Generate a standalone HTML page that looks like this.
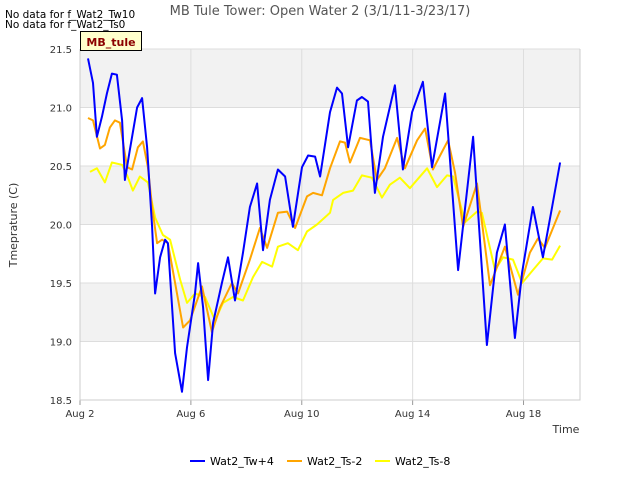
<!DOCTYPE html>
<html><head><meta charset="utf-8"><style>
body{margin:0;background:#fff;font-family:"Liberation Sans","DejaVu Sans",sans-serif}
</style></head><body>
<svg id="chart" width="640" height="480" xmlns="http://www.w3.org/2000/svg" font-family="DejaVu Sans, Liberation Sans, sans-serif">
<text x="320" y="15" text-anchor="middle" font-size="13" fill="#555">MB Tule Tower: Open Water 2 (3/1/11-3/23/17)</text>
<text x="5" y="18" font-size="10.5" fill="#000">No data for f_Wat2_Tw10</text>
<text x="5" y="28" font-size="10.5" fill="#000">No data for f_Wat2_Ts0</text>
<g id="plot"></g>
<g>
<rect x="80.5" y="31.5" width="61" height="19" fill="#ffffcc" stroke="#000"/>
<text x="111" y="46" text-anchor="middle" font-size="11" font-weight="bold" fill="#8b0000">MB_tule</text>
</g>
<text x="17" y="225" transform="rotate(-90 17 225)" text-anchor="middle" font-size="11" fill="#333">Tmeprature (C)</text>
<text x="566" y="433" text-anchor="middle" font-size="11" fill="#333">Time</text>
<g font-size="11" fill="#000">
<g><line x1="190" y1="461" x2="205" y2="461" stroke="#0000ff" stroke-width="2"/><text x="210" y="465">Wat2_Tw+4</text></g>
<g><line x1="287" y1="461" x2="302" y2="461" stroke="#ffa500" stroke-width="2"/><text x="307" y="465">Wat2_Ts-2</text></g>
<g><line x1="375" y1="461" x2="390" y2="461" stroke="#ffff00" stroke-width="2"/><text x="395" y="465">Wat2_Ts-8</text></g>
</g>
</svg>
<script>
const yTicks=[18.5,19.0,19.5,20.0,20.5,21.0,21.5];
const xTickDays=[0,4,8,12,16];
const xTickLabels=["Aug 2","Aug 6","Aug 10","Aug 14","Aug 18"];
const twDays=[0.29,0.47,0.61,0.79,0.97,1.15,1.33,1.52,1.62,1.80,2.06,2.24,2.42,2.60,2.71,2.89,3.07,3.17,3.43,3.68,3.86,4.15,4.26,4.44,4.62,4.80,5.12,5.34,5.59,5.88,6.13,6.39,6.60,6.85,7.14,7.40,7.68,8.01,8.23,8.48,8.66,9.02,9.27,9.45,9.67,9.99,10.17,10.39,10.64,10.93,11.36,11.65,11.98,12.37,12.70,13.17,13.64,14.18,14.68,15.04,15.33,15.69,15.95,16.34,16.70,17.03,17.32];
const twVals=[21.42,21.21,20.75,20.92,21.12,21.29,21.28,20.89,20.38,20.64,21.00,21.08,20.66,19.98,19.41,19.72,19.87,19.84,18.90,18.57,18.95,19.41,19.67,19.29,18.67,19.16,19.50,19.72,19.35,19.76,20.15,20.35,19.78,20.21,20.47,20.41,19.98,20.49,20.59,20.58,20.41,20.96,21.17,21.12,20.66,21.06,21.09,21.05,20.27,20.75,21.19,20.47,20.96,21.22,20.49,21.12,19.61,20.75,18.97,19.76,20.00,19.03,19.59,20.15,19.72,20.15,20.53];
const ts2Days=[0.29,0.47,0.72,0.90,1.08,1.26,1.44,1.70,1.88,2.09,2.27,2.45,2.60,2.78,2.96,3.17,3.43,3.72,3.97,4.40,4.76,5.05,5.48,5.70,6.13,6.49,6.75,7.14,7.47,7.76,8.19,8.41,8.73,9.02,9.38,9.56,9.74,10.10,10.46,10.71,11.00,11.44,11.72,12.16,12.45,12.73,12.99,13.28,13.53,13.82,14.32,14.79,15.33,15.80,16.23,16.52,16.77,17.32];
const ts2Vals=[20.91,20.89,20.65,20.68,20.83,20.89,20.87,20.49,20.47,20.66,20.71,20.49,20.15,19.84,19.87,19.84,19.50,19.12,19.18,19.47,19.08,19.29,19.50,19.41,19.70,19.97,19.80,20.10,20.11,19.97,20.24,20.27,20.25,20.48,20.71,20.70,20.53,20.74,20.72,20.38,20.48,20.74,20.48,20.72,20.82,20.47,20.59,20.72,20.44,19.98,20.35,19.48,19.81,19.40,19.76,19.88,19.80,20.12];
const ts8Days=[0.36,0.61,0.90,1.15,1.52,1.70,1.91,2.16,2.45,2.71,2.99,3.25,3.61,3.86,4.15,4.51,4.87,5.16,5.52,5.88,6.24,6.57,6.93,7.14,7.50,7.86,8.19,8.55,9.02,9.13,9.49,9.85,10.17,10.53,10.89,11.18,11.54,11.90,12.52,12.88,13.24,13.46,13.89,14.32,14.50,14.97,15.26,15.62,15.95,16.34,16.70,17.03,17.32];
const ts8Vals=[20.45,20.48,20.36,20.53,20.51,20.42,20.29,20.41,20.36,20.06,19.91,19.87,19.53,19.33,19.41,19.38,19.18,19.33,19.38,19.35,19.55,19.68,19.64,19.81,19.84,19.78,19.94,20.00,20.10,20.21,20.27,20.29,20.42,20.40,20.23,20.34,20.40,20.31,20.48,20.32,20.42,20.41,20.02,20.11,20.10,19.61,19.72,19.70,19.50,19.61,19.71,19.70,19.82];

const L=80,R=580,T=49,B=400,yMin=18.5,yMax=21.5,dayPx=27.72;
const xs=d=>L+d*dayPx;
const ys=v=>B-(v-yMin)/(yMax-yMin)*(B-T);
const NS="http://www.w3.org/2000/svg";
const plot=document.getElementById('plot');
function mk(tag,attrs){const e=document.createElementNS(NS,tag);for(const k in attrs)e.setAttribute(k,attrs[k]);plot.appendChild(e);return e;}
for(let i=0;i<yTicks.length-1;i++){
  if(i%2===1){const b=mk('rect',{x:L,y:ys(yTicks[i+1]),width:R-L,height:ys(yTicks[i])-ys(yTicks[i+1]),fill:'#f2f2f2'});
  
  }
}
yTicks.forEach(v=>{
  const g=mk('line',{x1:L,x2:R,y1:ys(v),y2:ys(v),stroke:'#dddddd'});
  
  
  const t=mk('text',{x:L-8,y:ys(v)+4,'text-anchor':'end','font-size':10,fill:'#333'});
  t.textContent=v.toFixed(1);
  
  
});
xTickDays.forEach((d,i)=>{
  const g=mk('line',{x1:xs(d),x2:xs(d),y1:T,y2:B,stroke:'#dddddd'});
  
  
  const tk=mk('line',{x1:xs(d),x2:xs(d),y1:B,y2:B+5,stroke:'#999'});
  
  
  const t=mk('text',{x:xs(d),y:B+17,'text-anchor':'middle','font-size':10,fill:'#333'});
  t.textContent=xTickLabels[i];
  
  
});
const ax=mk('path',{d:`M${L},${T}V${B}H${R}V${T}`,fill:'none',stroke:'#cccccc'});


function series(days,vals,color,name){
  const d=days.map((x,i)=>(i?'L':'M')+xs(x).toFixed(1)+','+ys(vals[i]).toFixed(1)).join('');
  const p=mk('path',{d:d,fill:'none',stroke:color,'stroke-width':2,'stroke-linejoin':'round'});
  
  
}
series(ts8Days,ts8Vals,'#ffff00','series-ts8-line');
series(ts2Days,ts2Vals,'#ffa500','series-ts2-line');
series(twDays,twVals,'#0000ff','series-tw4-line');
</script>
</body></html>
